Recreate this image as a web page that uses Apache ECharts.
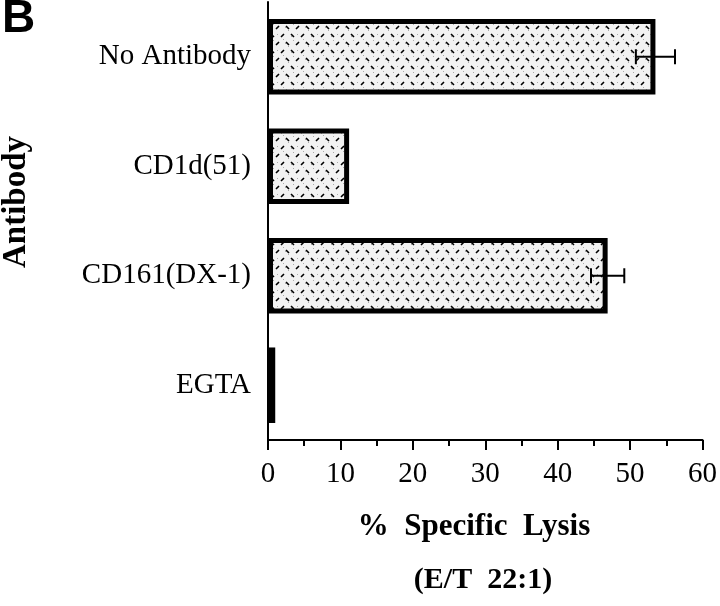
<!DOCTYPE html>
<html>
<head>
<meta charset="utf-8">
<script src="https://cdn.jsdelivr.net/npm/echarts@6/dist/echarts.min.js"></script>
<style>
  html, body { margin: 0; padding: 0; background: #fff; }
  #chart { width: 720px; height: 606px; }
</style>
</head>
<body>
<div id="chart"></div>
<script>
// categories, top to bottom
const antibodies = ['No Antibody', 'CD1d(51)', 'CD161(DX-1)', 'EGTA']
// % specific lysis
const lysis = [53.5, 11.2, 46.9, 1.0]
// error (+/-), 0 = no bar drawn
const lysisErr = [2.7, 0, 2.3, 0]
const xTicks = [0, 10, 20, 30, 40, 50, 60]

const serif = 'Liberation Serif'

// stippled herringbone fill like the print
const makePattern = () => {
  const c = document.createElement('canvas')
  c.width = 20
  c.height = 16
  const g = c.getContext('2d')
  g.fillStyle = '#f2f2f2'
  g.fillRect(0, 0, 20, 16)
  g.fillStyle = '#aaa'
  ;[[3, 7], [13, 8], [8, 14], [17, 2], [5, 11], [11, 4]].forEach(([x, y]) => g.fillRect(x, y, 1, 1))
  g.strokeStyle = '#000'
  g.lineWidth = 1.6
  g.beginPath()
  g.moveTo(1, 5); g.lineTo(4, 2)      // '/'
  g.moveTo(11, 2); g.lineTo(14, 5)    // '\'
  g.moveTo(6, 10); g.lineTo(9, 13)    // '\'
  g.moveTo(16, 13); g.lineTo(19, 10)  // '/'
  g.stroke()
  return c
}

const errData = antibodies
  .map((name, i) => [lysis[i] - lysisErr[i], lysis[i] + lysisErr[i], i, lysisErr[i]])
  .filter(d => d[3] > 0)

const chart = echarts.init(document.getElementById('chart'))

const option = {
  animation: false,
  grid: { left: 268, right: 17, top: 2, bottom: 166 },
  xAxis: {
    type: 'value',
    min: xTicks[0],
    max: xTicks[xTicks.length - 1],
    interval: 10,
    splitLine: { show: false },
    axisLine: { show: true, lineStyle: { color: '#000', width: 2 } },
    axisTick: { show: true, length: 10, lineStyle: { color: '#000', width: 2 } },
    minorTick: { show: true, splitNumber: 2, length: 6, lineStyle: { color: '#000', width: 2 } },
    axisLabel: { color: '#000', fontFamily: serif, fontSize: 29, margin: 20 }
  },
  yAxis: {
    type: 'category',
    inverse: true,
    data: antibodies,
    axisLine: { lineStyle: { color: '#000', width: 2 } },
    axisTick: { alignWithLabel: true, length: 9, lineStyle: { color: '#000', width: 2 } },
    axisLabel: { color: '#000', fontFamily: serif, fontSize: 29, margin: 17 }
  },
  series: [
    {
      type: 'bar',
      data: lysis,
      barWidth: '69%',
      itemStyle: {
        color: { image: makePattern(), repeat: 'repeat' },
        borderColor: '#000',
        borderWidth: 5
      }
    },
    {
      type: 'custom',
      data: errData,
      z: 5,
      renderItem: (params, api) => {
        const lo = api.coord([api.value(0), api.value(2)])
        const hi = api.coord([api.value(1), api.value(2)])
        const h = 7.5
        const style = { stroke: '#000', lineWidth: 2 }
        return {
          type: 'group',
          children: [
            { type: 'line', shape: { x1: lo[0], y1: lo[1], x2: hi[0], y2: hi[1] }, style },
            { type: 'line', shape: { x1: lo[0], y1: lo[1] - h, x2: lo[0], y2: lo[1] + h }, style },
            { type: 'line', shape: { x1: hi[0], y1: hi[1] - h, x2: hi[0], y2: hi[1] + h }, style }
          ]
        }
      }
    }
  ],
  graphic: [
    {
      type: 'text', left: 2, top: -4,
      style: { text: 'B', font: 'bold 46px "Liberation Sans"', fill: '#000' }
    },
    {
      type: 'text', x: 16, y: 202, rotation: Math.PI / 2,
      style: { text: 'Antibody', font: 'bold 33px "Liberation Serif"', fill: '#000', align: 'center', verticalAlign: 'middle' }
    },
    {
      type: 'text', x: 474, y: 527,
      style: { text: '%  Specific  Lysis', font: 'bold 31px "Liberation Serif"', fill: '#000', align: 'center', verticalAlign: 'middle' }
    },
    {
      type: 'text', x: 483, y: 580,
      style: { text: '(E/T  22:1)', font: 'bold 30px "Liberation Serif"', fill: '#000', align: 'center', verticalAlign: 'middle' }
    }
  ]
}

chart.setOption(option)
</script>
</body>
</html>
